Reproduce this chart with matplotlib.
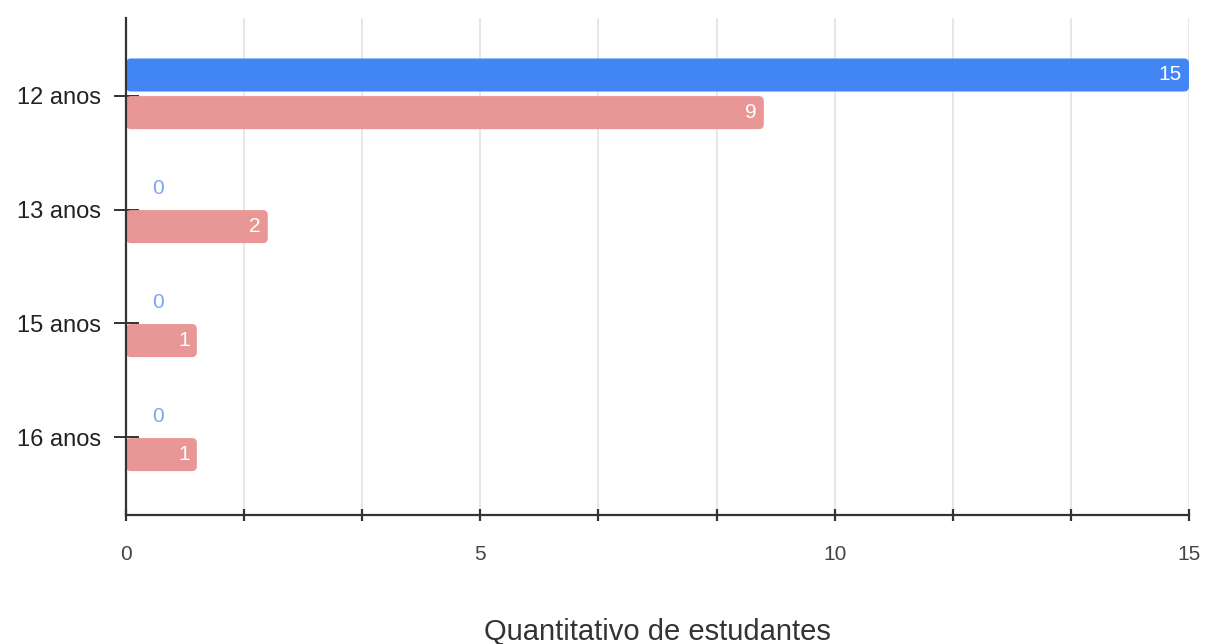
"""
Quantitativo de estudantes por idade (barras horizontais agrupadas).
"""
import numpy as np
import matplotlib.pyplot as plt
from matplotlib.patches import FancyBboxPatch

plt.rcParams["font.family"] = ["Liberation Sans", "DejaVu Sans"]

idades = ["12 anos", "13 anos", "15 anos", "16 anos"]
serie_azul = [15, 0, 0, 0]
serie_rosa = [9, 2, 1, 1]

cor_azul = "#4285f4"
cor_rosa = "#e99696"
cor_zero = "#7aa7f0"

fig = plt.figure(figsize=(12.05, 6.44), dpi=100)
ax = fig.add_axes([126 / 1205, 1 - 515 / 644, 1063 / 1205, 497 / 644])

y = np.arange(len(idades))
h = 0.29
barras_a = ax.barh(y - 0.18, serie_azul, height=h, color=cor_azul)
barras_b = ax.barh(y + 0.15, serie_rosa, height=h, color=cor_rosa)

ax.set_xlim(0, 15)
ax.set_ylim(len(idades) - 1 + 0.68, -0.68)

# troca os retangulos por versoes com cantos arredondados
aspecto = (1063 / 15) / (497 / 4.36)
for barras in (barras_a, barras_b):
    for b in barras:
        b.set_visible(False)
        if b.get_width() <= 0:
            continue
        p = FancyBboxPatch((b.get_x(), b.get_y()), b.get_width(), b.get_height(),
                           boxstyle="round,pad=0,rounding_size=0.07",
                           mutation_aspect=aspecto,
                           facecolor=b.get_facecolor(), edgecolor="none", zorder=3)
        ax.add_patch(p)

# rotulos de valor
for barras, vals in ((barras_a, serie_azul), (barras_b, serie_rosa)):
    for b, v in zip(barras, vals):
        yc = b.get_y() + b.get_height() / 2
        if v > 0:
            ax.annotate(str(v), xy=(v, yc), xytext=(-5, 0), textcoords="offset points",
                        ha="right", va="center", color="white", fontsize=15, zorder=4)
        else:
            ax.annotate(str(v), xy=(0, yc), xytext=(23, 0), textcoords="offset points",
                        ha="center", va="center", color=cor_zero, fontsize=15, zorder=4)

# eixos e grade
xt = np.linspace(0, 15, 10)
ax.set_xticks(xt)
ax.set_xticklabels([f"{v:g}" if round(v, 6) % 5 == 0 else "" for v in xt])
ax.grid(axis="x", color="#e3e3e3", linewidth=1.2, zorder=0)
ax.set_axisbelow(True)

ax.set_yticks(y)
ax.set_yticklabels(idades)

for s in ("top", "right"):
    ax.spines[s].set_visible(False)
for s in ("left", "bottom"):
    ax.spines[s].set_color("#333333")
    ax.spines[s].set_linewidth(1.6)
    ax.spines[s].set_zorder(5)

ax.tick_params(axis="y", direction="inout", length=18, width=1.4, color="#333333",
               labelsize=17, labelcolor="#222222", pad=9)
ax.tick_params(axis="x", direction="inout", length=9, width=1.6, color="#333333",
               labelsize=15, labelcolor="#444444", pad=17)

ax.set_xlabel("Quantitativo de estudantes", fontsize=21, color="#333333", va="center")
ax.xaxis.set_label_coords(0.5, -0.235)

plt.savefig("out.png", dpi=100)
